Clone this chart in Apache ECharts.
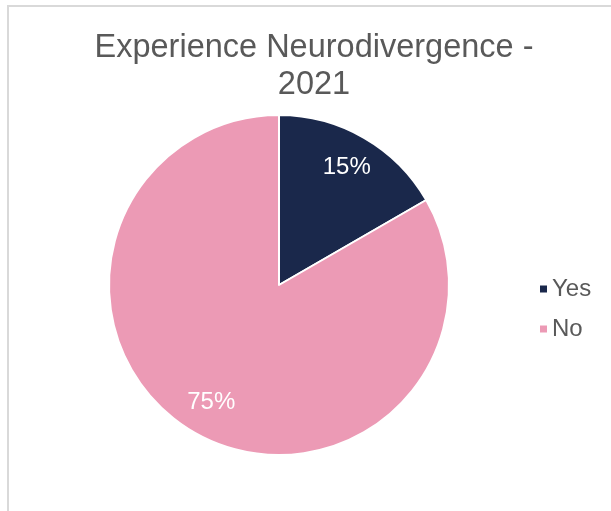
<!DOCTYPE html>
<html>
<head>
	<meta charset="utf-8">
	<title>Experience Neurodivergence - 2021</title>
	<style>
		html, body { margin: 0; padding: 0; background: #fff; overflow: hidden; }
		.frame { position: absolute; left: 7px; top: 5px; width: 640px; height: 540px; border: 2px solid #d9d9d9; }
		#chart { position: absolute; left: 0; top: 0; width: 611px; height: 511px; }
	</style>
	<script src="https://cdn.jsdelivr.net/npm/echarts@6/dist/echarts.min.js"></script>
</head>
<body>
	<div class="frame"></div>
	<div id="chart"></div>
<script type="text/javascript">
	var categories = ['Yes', 'No'];
	var values = [15, 75];
	var colors = ['#1a284b', '#ec9ab5'];

	var myChart = echarts.init(document.getElementById('chart'));

	var pieData = categories.map(function (name, i) {
		return { name: name, value: values[i], itemStyle: { color: colors[i] } };
	});
	// same slices, transparent, only to put the labels further out
	var labelData = categories.map(function (name, i) {
		return { name: name, value: values[i] };
	});

	var option = {
		title: {
			text: 'Experience Neurodivergence -\n2021',
			left: 309,
			top: 25,
			textAlign: 'center',
			textStyle: {
				fontFamily: 'Liberation Sans, Arial',
				fontWeight: 'normal',
				fontSize: 32.5,
				lineHeight: 37,
				color: '#595959'
			}
		},
		legend: {
			orient: 'vertical',
			left: 533,
			top: 272,
			itemWidth: 9,
			itemHeight: 9,
			itemGap: 16,
			icon: 'rect',
			data: categories.map(function (name, i) {
				return { name: name, itemStyle: { color: colors[i] } };
			}),
			textStyle: {
				fontFamily: 'Liberation Sans, Arial',
				fontSize: 24,
				color: '#595959',
				padding: [0, 0, 0, -1]
			}
		},
		series: [
			{
				type: 'pie',
				center: [279, 285],
				radius: [0, 170],
				startAngle: 90,
				clockwise: true,
				silent: true,
				label: { show: false },
				labelLine: { show: false },
				itemStyle: { borderColor: '#fff', borderWidth: 2 },
				data: pieData
			},
			{
				type: 'pie',
				center: [279, 285],
				radius: [95, 170],
				startAngle: 90,
				clockwise: true,
				silent: true,
				itemStyle: { color: 'rgba(0,0,0,0)' },
				label: {
					show: true,
					position: 'inside',
					formatter: '{c}%',
					fontFamily: 'Liberation Sans, Arial',
					fontSize: 24,
					color: '#ffffff'
				},
				labelLine: { show: false },
				data: labelData
			}
		]
	};

	myChart.setOption(option);
</script>
</body>
</html>
